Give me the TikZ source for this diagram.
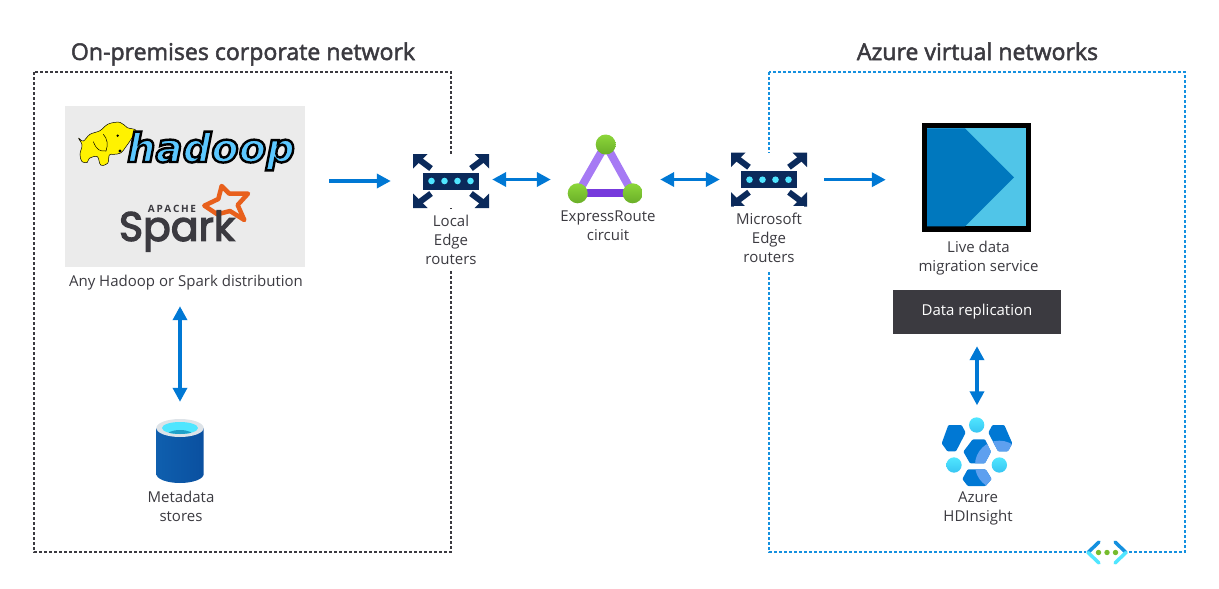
\documentclass[tikz,border=0pt]{standalone}
\usepackage{fontspec}
\usepackage{xcolor}
\usetikzlibrary{calc,arrows.meta}
\setmainfont{Open Sans}
\newfontfamily\hadoopfont{DejaVu Sans}
\newfontfamily\sparkfont{Poppins}
\def\strokeText#1{\special{pdf:code 2 Tr #1 w}}
\definecolor{azureblue}{HTML}{0078D4}
\definecolor{boxblue}{HTML}{1490DF}
\definecolor{cyanlight}{HTML}{50E6FF}
\definecolor{navy}{HTML}{0B2A5B}
\definecolor{inkgrey}{HTML}{3B3A40}
\definecolor{logogrey}{HTML}{EBEBEB}
\definecolor{sparkorange}{HTML}{E8601C}
\definecolor{hadoopblue}{HTML}{5CC8FF}
\definecolor{grassgreen}{HTML}{76BC2D}
\definecolor{grasstop}{HTML}{8CD63A}
\definecolor{grassbottom}{HTML}{6AAE28}
\definecolor{purplelight}{HTML}{A67AF4}
\definecolor{purpledark}{HTML}{773ADC}
\definecolor{migrationlight}{HTML}{50C5E8}
\definecolor{migrationdark}{HTML}{0078BE}
\definecolor{hdlight}{HTML}{5EA0EF}
\definecolor{cylinderleft}{HTML}{0F5FAE}
\definecolor{cylinderright}{HTML}{0A50A0}
\definecolor{cylinderrim}{HTML}{DDE3E8}
\definecolor{cylinderwater}{HTML}{1FA0C8}
\tikzset{
	label/.style={font=\fontsize{15}{19}\selectfont,text=inkgrey,align=center,inner sep=1pt},
	masklabel/.style={label,fill=white,minimum width=70pt,inner ysep=3pt},
	title/.style={font=\fontsize{23.1}{26}\selectfont,text=inkgrey,anchor=base},
	icon/.style={inner sep=0pt,fill=white},
	flow/.style={draw=azureblue,line width=3.5pt,-{Triangle[width=14pt,length=14pt]}},
	flowboth/.style={draw=azureblue,line width=3.5pt,{Triangle[width=14pt,length=14pt]}-{Triangle[width=14pt,length=14pt]}},
}
\def\drawRouter{
	\foreach \sx/\sy in {1/1,1/-1,-1/1,-1/-1}{
		\begin{scope}[xscale=\sx,yscale=\sy]
		\fill[navy] (38,27) -- (23.5,27) -- (38,12.5) -- cycle;
		\draw[navy,line width=6pt] (32,21.5) -- (20,12.5);
		\end{scope}
	}
	\fill[navy] (-28,-8.5) rectangle (28,8.5);
	\foreach \px in {-19.5,-6.5,6.5,19.5}{
		\fill[cyanlight] (\px,0) circle[radius=3.3];
	}
}
\def\hdPiece#1{
	\fill[azureblue] #1;
	\begin{scope}
	\clip #1;
	\fill[hdlight] (238,165) circle[radius=73];
	\end{scope}
}
\begin{document}
\begin{tikzpicture}[x=1pt,y=-1pt]
	\useasboundingbox (0,0) rectangle (1219,589);
	\draw[inkgrey,line width=1.6pt,dash pattern=on 3pt off 2pt] (34,72) rectangle (451,552);
	\draw[boxblue,line width=1.6pt,dash pattern=on 3pt off 2pt] (769,72) rectangle (1185,552);
	\node[title] (onpremtitle) at (243,60) {\strokeText{0.5}On-premises corporate network};
	\node[title] (azuretitle) at (977.5,60) {\strokeText{0.5}Azure virtual networks};

	\node[inner sep=0pt,fill=logogrey,minimum width=240pt,minimum height=161pt] (hadoop) at (185,186.5) {};
	\begin{scope}[shift={(70,115)},scale=1/3]
	\filldraw[fill=yellow,draw=black,line width=.5pt] plot[smooth cycle,tension=.6] coordinates {(26,70) (40,78) (60,58) (90,47) (115,27) (150,22) (172,38) (198,46) (185,70) (168,95) (152,114) (132,118) (118,120) (113,145) (92,150) (82,125) (58,130) (52,142) (36,140) (30,118) (36,90)};
	\draw[line width=.5pt] (70,80) .. controls (80,105) and (90,110) .. (108,108) .. controls (115,90) and (112,70) .. (100,58);
	\fill (143,62) circle[radius=4];
	\fill (150,108) circle[radius=5];
	\end{scope}
	\node[inner sep=0pt,text=hadoopblue,font=\hadoopfont\bfseries\itshape\fontsize{40}{40}\selectfont] (hadooptext) at (211,151) {\special{pdf:code 2 Tr 2.4 w 0 0 0 RG}hadoop};
	\begin{scope}[shift={(110,175)},scale=1/3]
	\draw[sparkorange,line width=4.5pt,line join=round] (335,33) -- (358,56) -- (414,56) -- (383,90) -- (403,135) -- (360,108) -- (322,118) -- (283,92) -- (325,72) -- cycle;
	\end{scope}
	\node[inner sep=0pt,text=inkgrey,font=\sparkfont\fontsize{41}{41}\selectfont] (sparktext) at (177,231) {\strokeText{1.3}Spark};
	\node[inner sep=0pt,text=inkgrey,font=\bfseries\fontsize{10}{10}\selectfont] (apachetext) at (172,209) {A\,P\,A\,C\,H\,E};
	\node[label] (hadooplabel) at (186,282.5) {Any Hadoop or Spark distribution};

	\node[icon,minimum width=76pt,minimum height=54pt] (localrouter) at (451,181) {};
	\begin{scope}[shift={(localrouter)}]
	\drawRouter
	\end{scope}
	\node[masklabel,minimum height=62pt] (locallabel) at (451,240) {Local\\Edge\\routers};

	\node[inner sep=0pt,minimum width=76pt,minimum height=91pt] (circuit) at (605,179.5) {};
	\begin{scope}[shift={(circuit)}]
	\draw[line width=8pt,purplelight] (0.7,-35) -- (-27.3,13.8);
	\draw[line width=8pt,purplelight] (0.7,-35) -- (27.7,13.8);
	\draw[line width=8pt,purpledark] (-27.3,13.8) -- (27.7,13.8);
	\foreach \px/\py in {0.7/-35,-27.3/13.8,27.7/13.8}{
		\shade[top color=grasstop,bottom color=grassbottom] (\px,\py) circle[radius=10];
	}
	\end{scope}
	\node[label] (circuitlabel) at (608,225.5) {ExpressRoute\\circuit};

	\node[icon,minimum width=76pt,minimum height=54pt] (msrouter) at (769,179.7) {};
	\begin{scope}[shift={(msrouter)}]
	\drawRouter
	\end{scope}
	\node[masklabel,minimum height=64pt] (mslabel) at (769,237.5) {Microsoft\\Edge\\routers};

	\node[inner sep=0pt,fill=black,minimum width=109pt,minimum height=109pt] (migration) at (976.5,177.3) {};
	\begin{scope}[shift={(migration)}]
	\fill[migrationlight] (-49.5,-49) rectangle (49.5,49);
	\fill[migrationdark] (-49.5,-49) -- (-11.5,-49) -- (37.5,0) -- (-11.5,49) -- (-49.5,49) -- cycle;
	\end{scope}
	\node[label] (migrationlabel) at (978.5,258) {Live data\\migration service};
	\node[inner sep=0pt,fill=inkgrey,text=white,font=\fontsize{15}{19}\selectfont,minimum width=168pt,minimum height=44pt] (replication) at (977,312) {Data replication};

	\node[inner sep=0pt,minimum width=70pt,minimum height=69pt] (hdinsight) at (977,452) {};
	\begin{scope}[shift={(hdinsight)},shift={(-57,-42)},scale=1/3,rounded corners=1pt]
	\hdPiece{(158,88) -- (195,88) -- (213,125) -- (195,160) -- (150,160) -- (130,125) -- cycle}
	\hdPiece{(85,45) -- (125,45) -- (137,68) -- (108,124) -- (82,124) -- (65,100) -- cycle}
	\hdPiece{(205,68) -- (217,45) -- (253,45) -- (277,100) -- (264,124) -- (234,124) -- cycle}
	\hdPiece{(143,178) -- (197,178) -- (215,207) -- (197,228) -- (143,228) -- (127,207) -- cycle}
	\foreach \px/\py in {170/45,102/165,238/165}{
		\shade[top color=cyanlight,bottom color=cyanlight!70!azureblue] (\px,\py) circle[radius=23];
	}
	\end{scope}
	\node[label] (hdlabel) at (978,508.5) {Azure\\HDInsight};

	\node[inner sep=0pt,minimum width=48pt,minimum height=64pt] (metadata) at (180,451) {};
	\begin{scope}[shift={(metadata)}]
	\shade[left color=cylinderleft,middle color=azureblue,right color=cylinderright] (-23.7,-23) -- (-23.7,23) arc[start angle=180,end angle=0,x radius=23.7,y radius=9] -- (23.7,-23) -- cycle;
	\fill[cylinderrim] (0,-23) ellipse[x radius=23.7,y radius=9];
	\fill[cyanlight] (0,-23) ellipse[x radius=18,y radius=6];
	\begin{scope}
	\clip (0,-23) ellipse[x radius=18,y radius=6];
	\fill[cylinderwater] (0,-15) ellipse[x radius=14,y radius=6];
	\end{scope}
	\end{scope}
	\node[label] (metadatalabel) at (181,506) {Metadata\\stores};

	\node[icon,minimum width=43pt,minimum height=26pt] (vnet) at (1107,552.5) {};
	\begin{scope}[shift={(vnet)},line width=3.5pt,line cap=round]
	\draw[boxblue] (-19,0) -- (-8,-10.5);
	\draw[cyanlight] (-19,0) -- (-8,10.5);
	\draw[boxblue] (19,0) -- (8,-10.5);
	\draw[cyanlight] (19,0) -- (8,10.5);
	\foreach \px in {-8.5,0,8.5}{
		\fill[grassgreen] (\px,0) circle[radius=2.7];
	}
	\end{scope}

	\draw[flow,shorten <=24pt,shorten >=22pt] (hadoop.east |- localrouter) -- (localrouter.west);
	\draw[flowboth,shorten <=3pt,shorten >=16pt] (localrouter.east |- circuit) -- (circuit.west);
	\draw[flowboth,shorten <=17pt,shorten >=11pt] (circuit.east) -- (msrouter.west |- circuit);
	\draw[flow,shorten <=17pt,shorten >=36pt] (msrouter.east) -- (migration.west |- msrouter);
	\draw[flowboth,shorten <=15pt,shorten >=17pt] (metadata |- hadooplabel.south) -- (metadata.north);
	\draw[flowboth,shorten <=12pt,shorten >=12pt] (replication.south) -- (hdinsight.north);
\end{tikzpicture}
\end{document}
